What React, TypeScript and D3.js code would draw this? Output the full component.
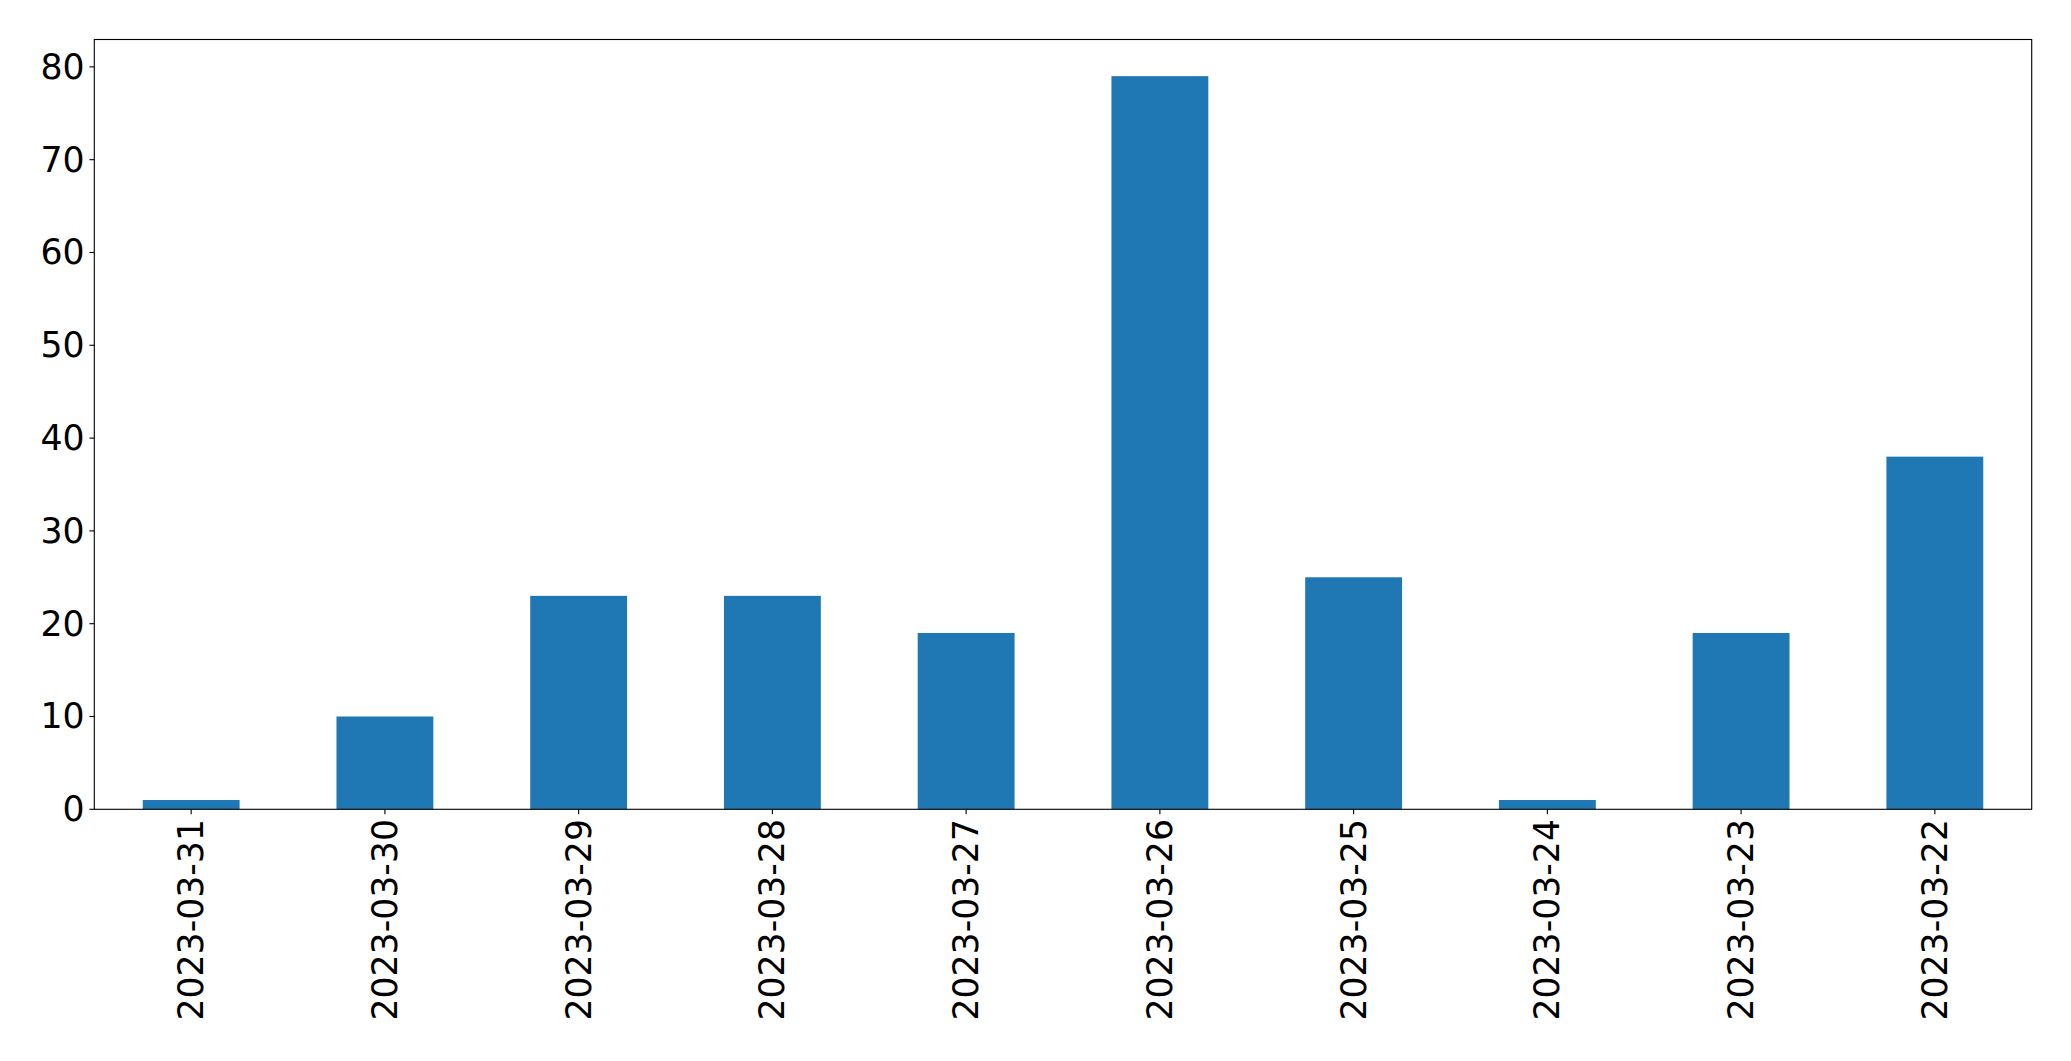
import React from "react";
import * as d3 from "d3";

const categories = ["2023-03-31", "2023-03-30", "2023-03-29", "2023-03-28", "2023-03-27", "2023-03-26", "2023-03-25", "2023-03-24", "2023-03-23", "2023-03-22"];
const values = [1, 10, 23, 23, 19, 79, 25, 1, 19, 38];
const yTicks = [0, 10, 20, 30, 40, 50, 60, 70, 80];

const W = 2071;
const H = 1061;
const left = 94.3;
const right = 2031.7;
const top = 39.5;
const bottom = 809.3;
const font = "'DejaVu Sans', sans-serif";
const fs = 34.7;
const tickLen = 4.86;
const pad = 4.86;

export default function App() {
  const x = d3.scaleBand<string>().domain(categories).range([left, right]).paddingInner(0.5).paddingOuter(0.25);
  const y = d3.scaleLinear().domain([0, d3.max(values)! * 1.05]).range([bottom, top]);
  return (
    <svg width={W} height={H} style={{ position: "absolute", left: 0, top: 0, background: "#fff" }}>
      <rect x={0} y={0} width={W} height={H} fill="#fff" />
      {values.map((v, i) => (
        <rect key={i} x={x(categories[i])!} y={y(v)} width={x.bandwidth()} height={y(0) - y(v)} fill="#1f77b4" />
      ))}
      <rect x={left} y={top} width={right - left} height={bottom - top} fill="none" stroke="#000" strokeWidth={1.11} />
      {yTicks.map((t) => (
        <g key={t}>
          <line x1={left - tickLen} x2={left} y1={y(t)} y2={y(t)} stroke="#000" strokeWidth={1.11} />
          <text x={left - tickLen - pad} y={y(t)} textAnchor="end" dominantBaseline="central" fontFamily={font} fontSize={fs} fill="#000">
            {t}
          </text>
        </g>
      ))}
      {categories.map((c) => {
        const cx = x(c)! + x.bandwidth() / 2;
        const ty = bottom + tickLen + pad;
        return (
          <g key={c}>
            <line x1={cx} x2={cx} y1={bottom} y2={bottom + tickLen} stroke="#000" strokeWidth={1.11} />
            <text transform={`translate(${cx},${ty}) rotate(-90)`} textAnchor="end" dominantBaseline="central" fontFamily={font} fontSize={fs} fill="#000">
              {c}
            </text>
          </g>
        );
      })}
    </svg>
  );
}
